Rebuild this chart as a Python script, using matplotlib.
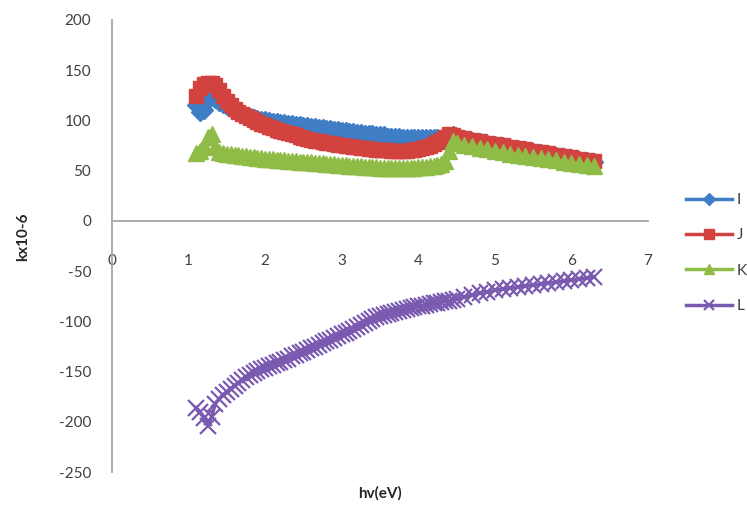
import matplotlib.pyplot as plt
import numpy as np

# photon energy (eV), shared by all four series
hv = [1.10, 1.15, 1.20, 1.25, 1.30, 1.35, 1.40, 1.45,
      1.50, 1.55, 1.60, 1.65, 1.70, 1.75, 1.80, 1.85, 1.90, 1.95,
      2.00, 2.05, 2.10, 2.15, 2.20, 2.25, 2.30, 2.35, 2.40, 2.45,
      2.50, 2.55, 2.60, 2.65, 2.70, 2.75, 2.80, 2.85, 2.90, 2.95,
      3.00, 3.05, 3.10, 3.15, 3.20, 3.25, 3.30, 3.35, 3.40, 3.45,
      3.50, 3.55, 3.60, 3.65, 3.70, 3.75, 3.80, 3.85, 3.90, 3.95,
      4.00, 4.05, 4.10, 4.15, 4.20, 4.25, 4.30, 4.35, 4.40, 4.45,
      4.50,
      4.6, 4.7, 4.8, 4.9, 5.0, 5.1, 5.2, 5.3, 5.4, 5.5, 5.6, 5.7, 5.8, 5.9,
      6.0, 6.1, 6.2, 6.3]

k_I = [115, 108, 110, 120, 124, 121, 118, 116,
       114, 112, 110, 108, 106, 104, 103, 102, 101, 100,
       100, 99, 98, 98, 97, 97, 96, 96, 95, 95,
       94, 94, 93, 93, 92, 92, 91, 91, 90, 90,
       89, 89, 88, 88, 87, 87, 86, 86, 86, 85,
       85, 85, 84, 84, 84, 84, 83, 83, 83, 83,
       83, 83, 83, 83, 83, 83, 82, 81, 84, 85,
       83,
       82, 80, 79, 77, 76, 75, 73, 72, 71, 69, 68, 67, 65, 64,
       63, 61, 60, 59]

k_J = [124, 132, 136, 137, 137, 135, 130, 124,
       119, 115, 111, 108, 106, 104, 102, 100, 98, 96,
       95, 93, 92, 90, 89, 88, 87, 86, 85, 84,
       83, 82, 81, 80, 80, 79, 78, 78, 77, 76,
       76, 75, 75, 74, 74, 73, 73, 72, 72, 71,
       71, 71, 71, 70, 70, 70, 70, 70, 71, 71,
       72, 73, 74, 75, 77, 79, 81, 84, 86, 85,
       84,
       83, 81, 80, 78, 77, 76, 74, 73, 72, 70, 69, 68, 66, 65,
       64, 62, 61, 60]

k_K = [68, 70, 75, 84, 86, 74, 69, 68,
       67, 67, 66, 66, 65, 65, 64, 64, 63, 63,
       62, 62, 62, 61, 61, 61, 60, 60, 60, 59,
       59, 59, 59, 58, 58, 58, 57, 57, 57, 56,
       56, 56, 55, 55, 55, 55, 54, 54, 54, 54,
       53, 53, 53, 53, 53, 53, 53, 53, 53, 53,
       54, 54, 54, 55, 55, 56, 57, 60, 70, 80,
       78,
       76, 75, 73, 72, 70, 69, 67, 66, 65, 64, 63, 62, 61, 59,
       58, 57, 56, 55]

k_L = [-186, -190, -196, -204, -195, -182, -177, -173,
       -170, -167, -164, -161, -158, -155, -153, -151, -149, -147,
       -146, -144, -143, -141, -140, -138, -137, -135, -134, -132,
       -131, -129, -127, -126, -124, -122, -120, -119, -117, -115,
       -113, -112, -110, -108, -106, -104, -102, -100, -98, -96,
       -95, -94, -93, -92, -91, -90, -89, -88, -87, -86,
       -85, -85, -84, -83, -82, -82, -81, -80, -80, -79,
       -78,
       -76, -74, -72, -71, -69, -68, -67, -66, -65, -64, -63, -62, -61, -60,
       -59, -58, -57, -56]

plt.rcParams['font.family'] = ['Lato', 'DejaVu Sans']
plt.rcParams['axes.unicode_minus'] = False

fig = plt.figure(figsize=(7.47, 5.11), dpi=100)
ax = fig.add_axes([0.1499, 0.0763, 0.7176, 0.8846])

ax.plot(hv, k_I, color='#3F7DC4', lw=2.5, marker='D', ms=9, label='I')
ax.plot(hv, k_J, color='#D2433F', lw=2.5, marker='s', ms=10.5, label='J')
ax.plot(hv, k_K, color='#8FBC47', lw=2.5, marker='^', ms=11, label='K')
ax.plot(hv, k_L, color='#7A5AB0', lw=2.5, marker='x', ms=11, mew=1.6, label='L')

ax.set_xlim(0, 7)
ax.set_ylim(-250, 200)
ax.set_xticks(np.arange(0, 8, 1))
ax.set_yticks(np.arange(-250, 201, 50))

for s in ['top', 'right']:
    ax.spines[s].set_visible(False)
ax.spines['bottom'].set_position(('data', 0))
ax.spines['bottom'].set_color('#A6A6A6')
ax.spines['left'].set_color('#A6A6A6')
ax.spines['bottom'].set_linewidth(1.3)
ax.spines['left'].set_linewidth(1.3)

ax.tick_params(axis='x', length=0, pad=24, labelsize=11, labelcolor='#404040')
ax.tick_params(axis='y', length=0, pad=15, labelsize=11, labelcolor='#404040')

fig.text(23 / 747, 1 - 237 / 511, 'kx10-6', rotation=90, fontsize=11,
         fontweight='bold', ha='center', va='center', color='#262626')
fig.text(380 / 747, 1 - 493 / 511, 'hv(eV)', fontsize=11,
         fontweight='bold', ha='center', va='center', color='#262626')

leg = fig.legend(loc='upper left', bbox_to_anchor=(686 / 747, 1 - 193 / 511),
                 frameon=False, fontsize=11, handlelength=3.0, handletextpad=0.3,
                 labelspacing=1.4, borderpad=0, borderaxespad=0, markerscale=0.7)
for t in leg.get_texts():
    t.set_color('#404040')

plt.savefig('out.png', dpi=100)
